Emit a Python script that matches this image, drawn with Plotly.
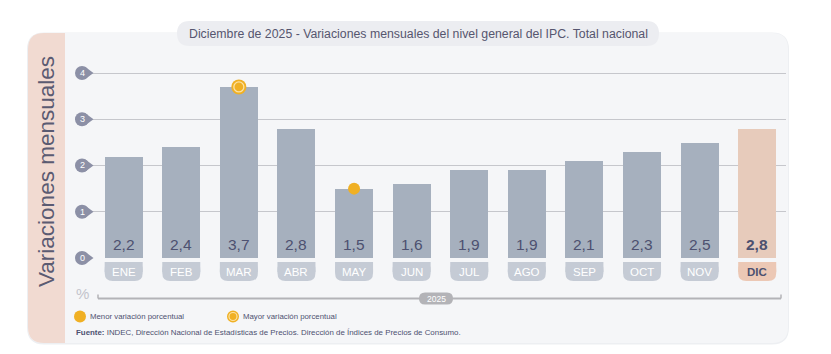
import plotly.graph_objects as go

# ---------------- data ----------------
months = ["ENE", "FEB", "MAR", "ABR", "MAY", "JUN", "JUL", "AGO", "SEP", "OCT", "NOV", "DIC"]
values = [2.2, 2.4, 3.7, 2.8, 1.5, 1.6, 1.9, 1.9, 2.1, 2.3, 2.5, 2.8]
y_ticks = [0, 1, 2, 3, 4]
year_label = "2025"
title_text = "Diciembre de 2025 - Variaciones mensuales del nivel general del IPC. Total nacional"
y_title = "Variaciones mensuales"
legend_min = "Menor variación porcentual"
legend_max = "Mayor variación porcentual"
source_text = "<b>Fuente:</b> INDEC, Dirección Nacional de Estadísticas de Precios. Dirección de Índices de Precios de Consumo."

# ---------------- styles ----------------
W, H = 831, 354
FONT = "Arial, Liberation Sans, sans-serif"
BAR = "#a6b0be"
BAR_HL = "#e7cbbb"
PILL = "#c5cbd5"
PILL_HL = "#ecc8b5"
TXT = "#4d5170"
YEL = "#f0b024"
PANEL = "#f5f6f8"
PINK = "#f1dad1"
GRID = "#c6c7cc"
TICKC = "#8c90a6"

def PX(x):
    return x / W

def PY(y):
    return 1 - y / H

def rr_path(w, h, r, dx=0, dy=0):
    l, rt, t, b = -w / 2 + dx, w / 2 + dx, -h / 2 + dy, h / 2 + dy
    return (f"M {l+r},{t} L {rt-r},{t} Q {rt},{t} {rt},{t+r} "
            f"L {rt},{b-r} Q {rt},{b} {rt-r},{b} L {l+r},{b} Q {l},{b} {l},{b-r} "
            f"L {l},{t+r} Q {l},{t} {l+r},{t} Z")

def rect_path(w, h, dx=0, dy=0):
    l, rt, t, b = -w / 2 + dx, w / 2 + dx, -h / 2 + dy, h / 2 + dy
    return f"M {l},{t} L {rt},{t} L {rt},{b} L {l},{b} Z"

def pix_shape(path, xref, xa, yref, ya, color, layer="below", line=None):
    return dict(type="path", path=path, xref=xref, yref=yref, xanchor=xa, yanchor=ya,
                xsizemode="pixel", ysizemode="pixel", fillcolor=color,
                line=line or dict(width=0), layer=layer)

n = len(months)
hl = n - 1
i_max = max(range(n), key=lambda i: values[i])
i_min = min(range(n), key=lambda i: values[i])

y0_px = 258
unit_px = 46.25
y_top = 4.2

fig = go.Figure()

fig.add_trace(go.Bar(
    x=months, y=values, width=0.66,
    marker=dict(color=[BAR_HL if i == hl else BAR for i in range(n)], line=dict(width=0)),
    hoverinfo="skip", showlegend=False,
))

# max / min markers
fig.add_trace(go.Scatter(x=[months[i_max]], y=[values[i_max]], mode="markers",
                         marker=dict(size=15, color=YEL, line=dict(width=0)),
                         hoverinfo="skip", showlegend=False))
fig.add_trace(go.Scatter(x=[months[i_max]], y=[values[i_max]], mode="markers",
                         marker=dict(size=10, color=YEL, line=dict(width=1.3, color="#fbe2a4")),
                         hoverinfo="skip", showlegend=False))
fig.add_trace(go.Scatter(x=[months[i_min]], y=[values[i_min]], mode="markers",
                         marker=dict(size=12, color=YEL, line=dict(width=0)),
                         hoverinfo="skip", showlegend=False))

shapes = []
annotations = []

# background panel
shapes.append(pix_shape(rr_path(762, 312, 17), "paper", PX(408), "paper", PY(188.5),
                        "#edeff2", layer="below"))
shapes.append(pix_shape(rr_path(760, 310, 16), "paper", PX(408), "paper", PY(188),
                        PANEL, layer="below"))
# pink band: rounded rect, right half squared by a plain rect
shapes.append(pix_shape(rr_path(37, 310, 16), "paper", PX(46.5), "paper", PY(188),
                        PINK, layer="below"))
shapes.append(pix_shape(rect_path(20, 310, dx=8.5), "paper", PX(46.5), "paper", PY(188),
                        PINK, layer="below"))

# title pill
shapes.append(pix_shape(rr_path(482, 25, 12.5), "paper", PX(418), "paper", PY(33.5),
                        "#ecedf1", layer="below"))
annotations.append(dict(text=title_text, x=PX(418), y=PY(33.5), xref="paper", yref="paper",
                        showarrow=False, font=dict(family=FONT, size=12.3, color="#56566f"),
                        xanchor="center", yanchor="middle"))

# y title
annotations.append(dict(text=y_title, x=PX(46), y=PY(172), xref="paper", yref="paper",
                        textangle=-90, showarrow=False,
                        font=dict(family=FONT, size=22.5, color="#5b5b72"),
                        xanchor="center", yanchor="middle"))

# y tick pins (placed on the y scale used by the axis)
pin = "M 3,6.3 L 11.5,0 L 3,-6.3 Z"
for t in y_ticks:
    yp = PY(y0_px - t * unit_px)
    shapes.append(dict(type="circle", xref="paper", yref="paper", xanchor=PX(82), yanchor=yp,
                       xsizemode="pixel", ysizemode="pixel", x0=-7, x1=7, y0=-7, y1=7,
                       fillcolor=TICKC, line=dict(width=0), layer="above"))
    shapes.append(pix_shape(pin, "paper", PX(82), "paper", yp, TICKC, layer="above"))
    annotations.append(dict(text=str(t), x=PX(82), y=yp, xref="paper", yref="paper", showarrow=False,
                            font=dict(family=FONT, size=9, color="white"),
                            xanchor="center", yanchor="middle"))

# month pills (square top, rounded bottom) and value labels
pill_cy = 271.5
for i, m in enumerate(months):
    col = PILL_HL if i == hl else PILL
    shapes.append(pix_shape(rr_path(38, 19, 8), "x", m, "paper", PY(pill_cy), col, layer="below"))
    shapes.append(pix_shape(rr_path(38, 10, 0), "x", m, "paper", PY(pill_cy - 4.5), col, layer="below"))
    annotations.append(dict(text=f"<b>{m}</b>" if i == hl else m, x=m, y=PY(pill_cy),
                            xref="x", yref="paper", showarrow=False,
                            font=dict(family=FONT, size=11.5, color=TXT if i == hl else "white"),
                            xanchor="center", yanchor="middle"))
    lbl = f"{values[i]:.1f}".replace(".", ",")
    annotations.append(dict(text=f"<b>{lbl}</b>" if i == hl else lbl, x=m, y=0,
                            xref="x", yref="y", showarrow=False, yshift=3,
                            font=dict(family=FONT, size=15.5, color=TXT),
                            xanchor="center", yanchor="bottom"))

# "%" and year axis
annotations.append(dict(text="%", x=PX(82), y=PY(293), xref="paper", yref="paper", showarrow=False,
                        font=dict(family=FONT, size=15, color="#c3c4cc"),
                        xanchor="center", yanchor="middle"))
shapes.append(dict(type="line", xref="paper", yref="paper", x0=PX(98), x1=PX(781),
                   y0=PY(298.5), y1=PY(298.5), line=dict(color="#b3b3b7", width=2), layer="above"))
shapes.append(dict(type="line", xref="paper", yref="paper", x0=PX(98), x1=PX(98),
                   y0=PY(298.5), y1=PY(294.5), line=dict(color="#b3b3b7", width=1.5), layer="above"))
shapes.append(dict(type="line", xref="paper", yref="paper", x0=PX(781), x1=PX(781),
                   y0=PY(298.5), y1=PY(294.5), line=dict(color="#b3b3b7", width=1.5), layer="above"))
shapes.append(pix_shape(rr_path(34, 12, 6), "paper", PX(436), "paper", PY(298.5),
                        "#b3b3b7", layer="above"))
annotations.append(dict(text=year_label, x=PX(436), y=PY(298.5), xref="paper", yref="paper",
                        showarrow=False, font=dict(family=FONT, size=8.5, color="white"),
                        xanchor="center", yanchor="middle"))

# legend
shapes.append(dict(type="circle", xref="paper", yref="paper", xanchor=PX(80), yanchor=PY(316.5),
                   xsizemode="pixel", ysizemode="pixel", x0=-6, x1=6, y0=-6, y1=6,
                   fillcolor=YEL, line=dict(width=0), layer="above"))
shapes.append(dict(type="circle", xref="paper", yref="paper", xanchor=PX(233), yanchor=PY(316.5),
                   xsizemode="pixel", ysizemode="pixel", x0=-6, x1=6, y0=-6, y1=6,
                   fillcolor=YEL, line=dict(width=0), layer="above"))
shapes.append(dict(type="circle", xref="paper", yref="paper", xanchor=PX(233), yanchor=PY(316.5),
                   xsizemode="pixel", ysizemode="pixel", x0=-4, x1=4, y0=-4, y1=4,
                   fillcolor=YEL, line=dict(width=1.2, color="#fbe2a4"), layer="above"))
annotations.append(dict(text=legend_min, x=PX(88), y=PY(316.5), xref="paper", yref="paper",
                        showarrow=False, font=dict(family=FONT, size=7.8, color=TXT),
                        xanchor="left", yanchor="middle"))
annotations.append(dict(text=legend_max, x=PX(241), y=PY(316.5), xref="paper", yref="paper",
                        showarrow=False, font=dict(family=FONT, size=7.8, color=TXT),
                        xanchor="left", yanchor="middle"))
annotations.append(dict(text=source_text, x=PX(74), y=PY(332), xref="paper", yref="paper",
                        showarrow=False, font=dict(family=FONT, size=7.9, color=TXT),
                        xanchor="left", yanchor="middle"))

fig.update_layout(
    width=W, height=H, margin=dict(l=0, r=0, t=0, b=0),
    paper_bgcolor="white", plot_bgcolor="rgba(0,0,0,0)",
    showlegend=False, bargap=0,
    xaxis=dict(domain=[PX(92), PX(786)], range=[-0.55, 11.5], showticklabels=False,
               showgrid=False, zeroline=False, showline=False, fixedrange=True),
    yaxis=dict(domain=[PY(y0_px), PY(y0_px - y_top * unit_px)], range=[0, y_top],
               tickvals=y_ticks, showticklabels=False, showgrid=True, gridcolor=GRID,
               gridwidth=1.2, zeroline=False, showline=False, fixedrange=True),
    shapes=shapes, annotations=annotations,
)

fig.write_html("out.html", config={"displayModeBar": False})
